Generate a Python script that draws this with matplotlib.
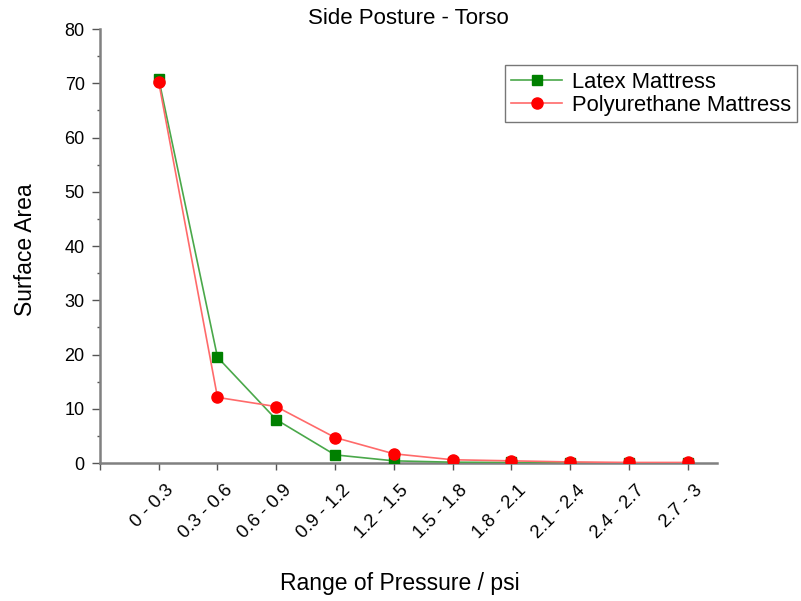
import matplotlib
matplotlib.use("Agg")
import matplotlib.pyplot as plt
from matplotlib.ticker import MultipleLocator

plt.rcParams['font.family'] = ['Liberation Sans', 'DejaVu Sans']

categories = ["0 - 0.3", "0.3 - 0.6", "0.6 - 0.9", "0.9 - 1.2", "1.2 - 1.5",
              "1.5 - 1.8", "1.8 - 2.1", "2.1 - 2.4", "2.4 - 2.7", "2.7 - 3"]
latex = [70.8, 19.5, 8.0, 1.5, 0.4, 0.15, 0.1, 0.05, 0.02, 0.0]
polyurethane = [70.2, 12.1, 10.4, 4.7, 1.7, 0.6, 0.4, 0.2, 0.1, 0.1]

fig = plt.figure(figsize=(8.01, 6.01), dpi=100)
ax = fig.add_axes([0.1248, 0.2296, 0.7703, 0.7221])

x = list(range(len(categories)))
ax.plot(x, latex, color='#4aa84a', lw=1.2, marker='s', ms=7,
        mfc='#008000', mec='#008000', label='Latex Mattress', zorder=3)
ax.plot(x, polyurethane, color='#ff6a6a', lw=1.2, marker='o', ms=8,
        mfc='#ff0000', mec='#ff0000', label='Polyurethane Mattress', zorder=4)

ax.set_xlim(-1, 9.5)
ax.set_ylim(0, 80)
ax.set_xticks([-1] + x)
ax.set_xticklabels([''] * (len(x) + 1))
for i, cat in zip(x, categories):
    ax.annotate(cat, xy=(i, 0), xycoords=('data', 'axes fraction'),
                xytext=(4.5, -13.5), textcoords='offset points',
                ha='right', va='top', rotation=45, rotation_mode='anchor',
                fontsize=13.3, annotation_clip=False)

ax.yaxis.set_major_locator(MultipleLocator(10))
ax.yaxis.set_minor_locator(MultipleLocator(5))
ax.tick_params(axis='y', labelsize=13, color='#555555', length=6, width=1, pad=5)
ax.tick_params(axis='y', which='minor', color='#555555', length=2.5, width=1)
ax.tick_params(axis='x', color='#555555', length=5, width=1, pad=0)

for s in ['top', 'right']:
    ax.spines[s].set_visible(False)
for s in ['left', 'bottom']:
    ax.spines[s].set_color('#808080')
    ax.spines[s].set_linewidth(1.8)

ax.set_title('Side Posture - Torso', fontsize=16, pad=3)
ax.set_ylabel('Surface Area', fontsize=16.5)
ax.yaxis.set_label_coords(-0.102, 0.491)
ax.set_xlabel('Range of Pressure / psi', fontsize=16.5)
ax.xaxis.set_label_coords(0.486, -0.25)

leg = ax.legend(loc='upper left', bbox_to_anchor=(0.656, 0.917), borderaxespad=0,
                fontsize=15.8, frameon=True, fancybox=False, edgecolor='#555555',
                handlelength=2.3, borderpad=0.3, labelspacing=0.1,
                handletextpad=0.45)
leg.get_frame().set_linewidth(1.0)

fig.savefig('out.png', dpi=100)
